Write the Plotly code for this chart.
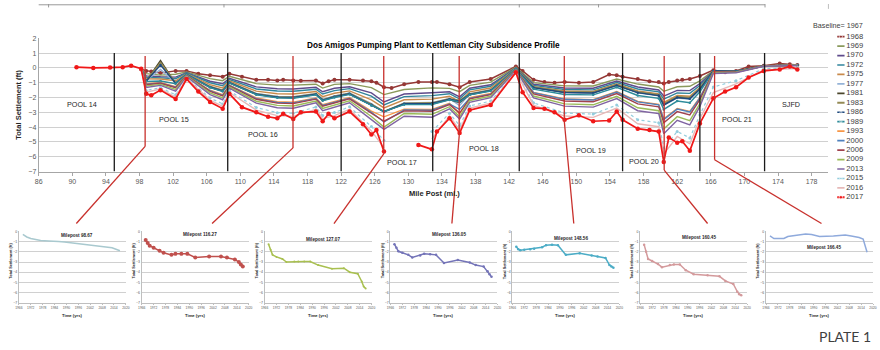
import plotly.graph_objects as go

W, H = 880, 350

# ---------------- DATA ----------------
YEARS = [1968, 1969, 1970, 1972, 1975, 1977, 1981, 1983, 1986, 1989,
         1993, 2000, 2006, 2009, 2013, 2015, 2016, 2017]

# fine milepost grid (1968 and 2017 profiles)
MP_FULL = [90.5, 92.5, 94.5, 96.0, 97.0, 98.2, 98.8, 99.4, 100.5, 102.3, 103.6, 105.0, 106.4, 107.9,
           108.7, 110.2, 111.9, 113.3, 114.4, 115.1, 116.3, 117.2, 119.0, 119.8, 120.5, 121.2, 123.0,
           124.6, 125.6, 126.2, 127.1, 128.0, 129.5, 131.2, 132.8, 133.4, 134.9, 136.1, 137.3, 139.8,
           142.8, 143.6, 144.9, 146.2, 147.4, 148.6, 150.3, 152.0, 153.9, 154.8, 155.5, 157.3, 158.7,
           159.8, 160.4, 161.0, 162.0, 162.6, 163.5, 164.7, 166.3, 167.7, 169.0, 170.5, 172.3, 174.2,
           175.4, 176.3]

S1968 = [None, None, None, None, None, -0.10, -0.20, -0.25, -0.35, -0.20, -0.20, -0.40, -0.50, -0.60,
         -0.40, -0.60, -0.80, -0.80, -0.85, -0.80, -0.85, -0.87, -0.85, -1.05, -0.90, -0.80, -0.80,
         -0.85, -0.90, -1.00, -1.30, -1.35, -1.10, -0.95, -0.95, -0.95, -1.10, -1.30, -0.95, -0.75,
         0.10, -0.20, -0.80, -0.95, -1.00, -0.95, -1.00, -0.95, -0.45, -0.50, -0.60, -0.75, -0.90,
         -0.95, -1.05, -0.95, -0.85, -0.80, -0.75, -0.55, -0.15, -0.30, -0.20, 0.10, 0.15, 0.30,
         0.25, 0.20]

S2017 = [0.05, 0.00, 0.02, 0.05, 0.15, -0.05, -1.75, -1.85, -1.50, -2.10, -0.75, -1.60, -2.30, -2.75,
         -1.75, -2.65, -3.00, -3.30, -3.40, -3.10, -3.45, -3.00, -2.95, -3.60, -3.10, -3.40, -2.95,
         -3.80, -4.50, -4.20, -5.65, None, None, -5.20, -5.50, -4.30, -3.40, -4.40, -2.85, -2.50,
         -0.30, -1.65, -2.70, -2.75, -3.00, -3.50, -3.20, -3.60, -3.55, -2.95, -3.50, -4.10, -4.20,
         -4.30, -6.35, -4.70, -5.05, -4.95, -5.60, -3.75, -2.05, -1.60, -1.30, -0.65, -0.20, -0.10,
         0.10, -0.10]

# coarser milepost grid for the intermediate surveys
MP_MID = [98.2, 98.8, 100.5, 102.3, 103.6, 106.4, 107.9, 108.7, 111.9, 114.4, 116.3, 119.0, 119.8,
          121.2, 123.0, 125.6, 127.1, 129.5, 132.8, 134.9, 136.1, 137.3, 139.8, 142.8, 144.9, 148.6,
          152.0, 154.8, 157.3, 159.8, 160.4, 162.0, 163.5, 164.7, 166.3, 169.0, 172.3, 176.3]

Y1969 = [-0.10, -0.39, -0.49, -0.43, -0.27, -0.72, -0.86, -0.56, -1.06, -1.16, -1.16, -1.10, -1.36, -1.11, -1.06, -1.33, -1.80, -1.46, -1.35, -1.38, -1.60, -1.18, -0.96, 0.05, -0.99, -1.21, -1.22, -0.75, -1.09, -1.29, -1.58, -1.27, -1.24, -0.87, -0.19, -0.22, 0.14, 0.19]
Y1970 = [-0.10, -0.54, -0.60, -0.62, -0.32, -0.90, -1.07, -0.70, -1.28, -1.41, -1.42, -1.31, -1.61, -1.37, -1.27, -1.69, -2.30, -1.76, -1.68, -1.61, -1.95, -1.37, -1.14, 0.01, -1.10, -1.36, -1.37, -0.89, -1.29, -1.49, -1.90, -1.52, -1.53, -1.06, -0.23, -0.24, 0.14, 0.19]
Y1972 = [-0.10, -0.63, -0.67, -0.73, -0.35, -1.00, -1.20, -0.78, -1.42, -1.56, -1.58, -1.44, -1.76, -1.53, -1.40, -1.91, -2.50, -1.94, -1.87, -1.74, -2.10, -1.48, -1.24, -0.01, -1.18, -1.46, -1.48, -0.99, -1.42, -1.62, -2.11, -1.69, -1.72, -1.19, -0.25, -0.26, 0.13, 0.19]
Y1975 = [-0.10, -0.74, -0.75, -0.87, -0.39, -1.13, -1.35, -0.87, -1.57, -1.74, -1.76, -1.59, -1.94, -1.71, -1.55, -2.16, -2.70, -2.15, -2.11, -1.91, -2.30, -1.62, -1.36, -0.04, -1.26, -1.56, -1.59, -1.09, -1.55, -1.75, -2.32, -1.86, -1.91, -1.32, -0.26, -0.27, 0.13, 0.18]
Y1977 = [-0.10, -0.85, -0.10, -1.00, -0.43, -1.26, -1.50, -0.97, -1.72, -1.92, -1.94, -1.73, -2.12, -1.89, -1.70, -2.41, -3.00, -2.36, -2.34, -2.07, -2.55, -1.75, -1.49, -0.07, -1.33, -1.66, -1.69, -1.19, -1.69, -1.89, -2.53, -2.03, -2.11, -1.45, -0.25, -0.26, 0.13, 0.19]
Y1981 = [-0.10, -0.90, 0.50, -1.06, -0.45, -1.31, -1.57, -1.01, -1.79, -2.00, -2.02, -1.80, -2.20, -1.97, -1.77, -2.52, -2.95, -2.45, -2.44, -2.14, -2.35, -1.81, -1.54, -0.08, -1.31, -1.64, -1.67, -1.16, -1.65, -1.85, -2.48, -1.98, -2.06, -1.41, -0.23, -0.24, 0.14, 0.19]
Y1983 = [-0.10, -0.87, 0.35, -1.02, -0.44, -1.27, -1.52, -0.98, -1.75, -1.95, -1.97, -1.75, -2.15, -1.92, -1.72, -2.45, -2.95, -2.39, -2.37, -2.09, -2.20, -1.77, -1.50, -0.07, -1.29, -1.61, -1.64, -1.14, -1.62, -1.82, -2.43, -1.94, -2.01, -1.38, -0.21, -0.23, 0.14, 0.19]
Y1986 = [-0.10, -0.88, 0.20, -1.04, -0.44, -1.29, -1.55, -0.99, -1.77, -1.97, -1.99, -1.77, -2.17, -1.94, -1.75, -2.48, -2.95, -2.42, -2.40, -2.11, -2.25, -1.79, -1.52, -0.08, -1.33, -1.66, -1.69, -1.18, -1.67, -1.87, -2.50, -2.00, -2.08, -1.43, -0.19, -0.22, 0.14, 0.19]
Y1989 = [-0.10, -0.91, -0.88, -1.07, -0.45, -1.33, -1.59, -1.02, -1.81, -2.02, -2.05, -1.82, -2.22, -2.00, -1.79, -2.56, -2.95, -2.48, -2.47, -2.16, -2.30, -1.82, -1.56, -0.08, -1.43, -1.79, -1.82, -1.31, -1.86, -2.06, -2.80, -2.24, -2.35, -1.61, -0.25, -0.26, 0.13, 0.19]
Y1993 = [-0.10, -1.07, -0.99, -1.26, -0.51, -1.51, -1.80, -1.16, -2.03, -2.28, -2.31, -2.03, -2.48, -2.26, -2.00, -2.92, -3.30, -2.78, -2.80, -2.39, -3.10, -2.01, -1.73, -0.12, -1.66, -2.10, -2.14, -1.60, -2.26, -2.46, -3.44, -2.74, -2.93, -1.99, -0.30, -0.29, 0.12, 0.18]
Y2000 = [-0.10, -1.10, -1.02, -1.30, -0.52, -1.54, -1.85, -1.18, -2.08, -2.33, -2.36, -2.07, -2.53, -2.31, -2.05, -2.99, -3.65, -2.84, -2.86, -2.43, -2.80, -2.05, -1.77, -0.13, -1.67, -2.12, -2.17, -1.63, -2.29, -2.49, -3.49, -2.78, -2.98, -2.02, -0.28, -0.28, 0.12, 0.18]
Y2006 = [-0.10, -1.13, -1.04, -1.34, -0.53, -1.58, -1.89, -1.21, -2.12, -2.38, -2.41, -2.11, -2.58, -2.36, -2.09, -3.06, -3.60, -2.90, -2.93, -2.48, -3.05, -2.09, -1.80, -0.14, -1.75, -2.23, -2.28, -1.73, -2.43, -2.63, -3.70, -2.95, -3.18, -2.15, -0.26, -0.27, 0.13, 0.18]
Y2009 = [-0.10, -1.22, -1.11, -1.45, -0.56, -1.69, -2.02, -1.29, -2.25, -2.53, -2.57, -2.24, -2.73, -2.52, -2.22, -3.28, -4.00, -3.08, -3.13, -2.62, -3.30, -2.20, -1.91, -0.16, -1.90, -2.43, -2.49, -1.92, -2.69, -2.89, -4.12, -3.29, -3.56, -2.41, -0.30, -0.29, 0.12, 0.18]
Y2013 = [-0.10, -1.32, -1.18, -1.57, -0.60, -1.80, -2.15, -1.37, -2.38, -2.69, -2.72, -2.36, -2.89, -2.67, -2.35, -3.49, -4.15, -3.26, -3.33, -2.76, -3.45, -2.32, -2.01, -0.19, -2.02, -2.58, -2.65, -2.07, -2.89, -3.09, -4.44, -3.54, -3.85, -2.60, -0.38, -0.33, 0.11, 0.16]
Y2015 = [-0.10, -1.52, -1.33, -1.82, -0.67, -2.03, -2.43, -1.55, -2.67, -3.02, -3.06, -2.64, -3.22, -3.01, -2.63, -3.96, -4.90, None, -4.30, -3.06, -3.90, -2.57, -2.24, -0.24, -2.36, -3.04, -3.12, -2.51, -3.50, -3.70, -5.40, -4.29, -4.73, -3.17, -1.29, -0.86, -0.06, 0.02]
Y2016 = [-0.10, -1.64, -1.42, -1.97, -0.71, -2.17, -2.60, -1.66, -2.85, -3.22, -3.27, -2.80, -3.42, -3.22, -2.80, -4.25, -5.40, None, -4.80, -3.24, -4.20, -2.72, -2.38, -0.27, -2.51, -3.25, -3.34, -2.71, -3.77, -3.97, -5.82, -4.63, -5.12, -3.43, -1.67, -1.08, -0.13, -0.04]

SERIES = {
    1968: (MP_FULL, S1968), 1969: (MP_MID, Y1969), 1970: (MP_MID, Y1970), 1972: (MP_MID, Y1972),
    1975: (MP_MID, Y1975), 1977: (MP_MID, Y1977), 1981: (MP_MID, Y1981), 1983: (MP_MID, Y1983),
    1986: (MP_MID, Y1986), 1989: (MP_MID, Y1989), 1993: (MP_MID, Y1993), 2000: (MP_MID, Y2000),
    2006: (MP_MID, Y2006), 2009: (MP_MID, Y2009), 2013: (MP_MID, Y2013), 2015: (MP_MID, Y2015),
    2016: (MP_MID, Y2016), 2017: (MP_FULL, S2017),
}

# time series at selected mileposts (inset charts), one value per survey year
INSET_MILEPOSTS = [98.67, 116.27, 127.07, 136.05, 148.56, 160.45, 166.45]
IN_98_67 = [-0.30, -0.45, -0.55, -0.70, -0.85, -0.90, -0.95, -0.95, -1.00, -1.05, -1.15, -1.30, -1.40, -1.50, -1.60, -1.75, -1.80, -1.90]
IN_116_27 = [-0.85, -1.15, -1.40, -1.60, -1.90, -2.10, -2.30, -2.20, -2.20, -2.20, -2.55, -2.45, -2.45, -2.55, -2.75, -3.00, -3.25, -3.45]
IN_127_07 = [-1.25, -1.80, -2.30, -2.50, -2.70, -3.00, -2.95, -2.95, -2.95, -2.95, -3.30, -3.65, -3.60, -4.00, -4.15, -4.90, -5.40, -5.60]
IN_136_05 = [-1.25, -1.60, -1.95, -2.10, -2.30, -2.55, -2.35, -2.20, -2.25, -2.30, -3.10, -2.80, -3.05, -3.30, -3.45, -3.90, -4.20, -4.45]
IN_148_56 = [-1.50, -1.75, -1.85, -1.80, -1.75, -1.70, -1.55, -1.35, -1.30, -1.35, -2.30, -2.15, -2.35, -2.45, -2.60, -3.30, -3.45, -3.55]
IN_160_45 = [-1.30, -2.00, -2.70, -2.90, -3.20, -3.50, -3.30, -3.25, -3.25, -3.80, -4.20, -4.30, -4.40, -4.85, -5.15, -5.90, -6.15, -6.25]
IN_166_45 = [-0.45, -0.55, -0.70, -0.70, -0.70, -0.50, -0.40, -0.35, -0.25, -0.30, -0.50, -0.45, -0.35, -0.45, -0.60, -0.75, -1.40, -2.05]
INSET_VALUES = [IN_98_67, IN_116_27, IN_127_07, IN_136_05, IN_148_56, IN_160_45, IN_166_45]

POOL_BOUNDS = [95.0, 108.5, 122.0, 132.9, 143.2, 155.5, 164.7, 172.4]
POOL_NAMES = ["POOL 14", "POOL 15", "POOL 16", "POOL 17", "POOL 18", "POOL 19", "POOL 20", "POOL 21", "SJFD"]
POOL_LABEL_X = [91.1, 102.1, 112.7, 129.2, 139.0, 151.7, 158.1, 169.1, 175.5]
POOL_LABEL_Y = [-2.5, -3.45, -4.5, -6.4, -5.45, -5.55, -6.35, -3.45, -2.5]
MAIN_X_TICKS = list(range(86, 179, 4))
INSET_X_TICKS = list(range(1966, 2021, 6))

# ---------------- STYLE ----------------
STYLE = {
    1968: ("#953735", 1.5, "solid", 4),
    1969: ("#8A9A5B", 1.4, "solid", 0),
    1970: ("#5F4B8B", 1.4, "solid", 0),
    1972: ("#31859C", 1.4, "solid", 0),
    1975: ("#C98A4B", 1.4, "solid", 0),
    1977: ("#95B3D7", 1.4, "solid", 0),
    1981: ("#4A452A", 1.4, "solid", 0),
    1983: ("#948A54", 1.8, "solid", 0),
    1986: ("#1F497D", 1.4, "solid", 2.5),
    1989: ("#2E8B9A", 1.4, "solid", 2.5),
    1993: ("#F79646", 1.4, "solid", 0),
    2000: ("#4F81BD", 1.4, "solid", 0),
    2006: ("#A0434E", 1.4, "solid", 0),
    2009: ("#9BBB59", 1.4, "solid", 0),
    2013: ("#8064A2", 1.4, "solid", 0),
    2015: ("#93CDDD", 1.2, "dot", 3),
    2016: ("#E6B9B8", 1.4, "solid", 0),
    2017: ("#F01818", 1.7, "solid", 4.5),
}
INSET_COLORS = ["#A9C9CF", "#C0504D", "#A9C050", "#7474B8", "#4BACC6", "#D49A9C", "#8FAADC"]
INSET_MARK = [0, 4, 2, 2.5, 2.5, 2.5, 0]
INSET_LEFT_PX = [15, 139, 263, 390, 513, 642, 769]
INSET_W_PX = 108
INSET_TOP_PX, INSET_BOT_PX = 232, 305
TITLE_Y = [-0.45, -0.35, -0.75, -0.35, -0.7, -0.6, -1.6]
CONN_END_Y = [-5.3, -5.4, -5.8, -4.6, -3.6, -6.9, -6.2]
CONN_TARGET_PX = [73, 210, 333, 452, 575, 710, 825]
CONN_TARGET_Y_PX = 224

MAIN_X_PX = (35, 832)
MAIN_Y_PX = (35, 171)
X_RANGE = [86, 180]
Y_RANGE = [-7, 2]
FONT = "Liberation Sans, Arial, sans-serif"


def fx(p):
    return p / W


def fy(p):
    return 1 - p / H


def data_to_px(mx, my):
    px = MAIN_X_PX[0] + (mx - X_RANGE[0]) / (X_RANGE[1] - X_RANGE[0]) * (MAIN_X_PX[1] - MAIN_X_PX[0])
    py = MAIN_Y_PX[0] + (Y_RANGE[1] - my) / (Y_RANGE[1] - Y_RANGE[0]) * (MAIN_Y_PX[1] - MAIN_Y_PX[0])
    return px, py


def note(text, x, y, size, xref="paper", yref="paper", color="#262626", angle=0, family=None):
    f = dict(size=size, color=color)
    if family:
        f["family"] = family
    return dict(text=text, xref=xref, yref=yref, x=x, y=y, showarrow=False,
                xanchor="center", yanchor="middle", textangle=angle, font=f)


fig = go.Figure()

# main profile lines
for yr in YEARS:
    mp, vals = SERIES[yr]
    c, w, d, ms = STYLE[yr]
    fig.add_trace(go.Scatter(
        x=mp, y=vals, mode="lines+markers" if ms else "lines",
        line=dict(color=c, width=w, dash=d),
        marker=dict(size=ms, color=c, symbol="circle"),
        xaxis="x", yaxis="y", showlegend=False, hoverinfo="skip"))

# manual legend (compact) on hidden axis
for i, yr in enumerate(YEARS):
    c, w, d, ms = STYLE[yr]
    fig.add_trace(go.Scatter(
        x=[0.15, 0.23, 0.31], y=[i, i, i], mode="lines+markers",
        line=dict(color=c, width=min(w + 0.3, 2.2), dash="solid"),
        marker=dict(size=[0, ms * 0.8 if ms else 0, 0], color=c),
        xaxis="x9", yaxis="y9", showlegend=False, hoverinfo="skip"))
fig.add_trace(go.Scatter(
    x=[0.35] * len(YEARS), y=list(range(len(YEARS))), mode="text",
    text=[str(y) for y in YEARS], textposition="middle right",
    textfont=dict(size=7.6, color="#404040", family=FONT),
    xaxis="x9", yaxis="y9", showlegend=False, hoverinfo="skip"))

# insets
for i, (mp, vals) in enumerate(zip(INSET_MILEPOSTS, INSET_VALUES)):
    k = i + 2
    fig.add_trace(go.Scatter(
        x=YEARS, y=vals, mode="lines+markers" if INSET_MARK[i] else "lines",
        line=dict(color=INSET_COLORS[i], width=1.5),
        marker=dict(size=INSET_MARK[i], color=INSET_COLORS[i]),
        xaxis=f"x{k}", yaxis=f"y{k}", showlegend=False, hoverinfo="skip"))

layout = dict(
    width=W, height=H, margin=dict(l=0, r=0, t=0, b=0),
    paper_bgcolor="white", plot_bgcolor="white",
    font=dict(family=FONT, color="#404040"),
    xaxis=dict(domain=[fx(MAIN_X_PX[0]), fx(MAIN_X_PX[1])], range=X_RANGE,
               tickvals=MAIN_X_TICKS, showgrid=False, zeroline=False,
               showline=True, linecolor="#A6A6A6", linewidth=1,
               ticks="outside", ticklen=3, tickcolor="#A6A6A6",
               tickfont=dict(size=7, color="#595959"), anchor="y"),
    yaxis=dict(domain=[fy(MAIN_Y_PX[1]), fy(MAIN_Y_PX[0])], range=Y_RANGE, dtick=1,
               showgrid=True, gridcolor="#D0D0D0", gridwidth=1, zeroline=False,
               showline=True, linecolor="#A6A6A6", linewidth=1,
               tickfont=dict(size=7, color="#595959"), anchor="x"),
    xaxis9=dict(domain=[fx(834), 1.0], range=[0, 1], visible=False, anchor="y9"),
    yaxis9=dict(domain=[fy(202.1), fy(28.5)], range=[17.5, -0.5], visible=False, anchor="x9"),
)

annotations = []
shapes = []

for i, mp in enumerate(INSET_MILEPOSTS):
    k = i + 2
    left = INSET_LEFT_PX[i]
    right = left + INSET_W_PX
    layout[f"xaxis{k}"] = dict(
        domain=[fx(left), fx(right)], range=[1966, 2020], tickvals=INSET_X_TICKS,
        showgrid=False, zeroline=False, showline=True, linecolor="#BFBFBF",
        ticks="outside", ticklen=1.5, tickcolor="#BFBFBF",
        tickfont=dict(size=3.3, color="#595959"), anchor=f"y{k}")
    layout[f"yaxis{k}"] = dict(
        domain=[fy(INSET_BOT_PX), fy(INSET_TOP_PX)], range=[-7, 0], dtick=1,
        showgrid=True, gridcolor="#D0D0D0", zeroline=False, showline=True,
        linecolor="#BFBFBF", tickfont=dict(size=3.5, color="#595959"), anchor=f"x{k}")
    annotations.append(note(f"<b>Milepost {mp:.2f}</b>", 1995.5, TITLE_Y[i], 4.6,
                            xref=f"x{k}", yref=f"y{k}"))
    annotations.append(note("<b>Total Settlement (ft)</b>", fx(left - 8), fy(262), 3.8, angle=-90))
    annotations.append(note("<b>Time (yrs)</b>", fx((left + right) / 2), fy(318), 4.2))
    # connector: vertical in data space, then diagonal to the inset
    shapes.append(dict(type="line", xref="x", yref="y", x0=mp, x1=mp, y0=0.8, y1=CONN_END_Y[i],
                       line=dict(color="#C8302C", width=1.3), layer="above"))
    sx, sy = data_to_px(mp, CONN_END_Y[i])
    shapes.append(dict(type="line", xref="paper", yref="paper",
                       x0=fx(sx), y0=fy(sy), x1=fx(CONN_TARGET_PX[i]), y1=fy(CONN_TARGET_Y_PX),
                       line=dict(color="#C8302C", width=1.3), layer="above"))

for b in POOL_BOUNDS:
    shapes.append(dict(type="line", xref="x", yref="y", x0=b, x1=b, y0=1, y1=-7,
                       line=dict(color="#1A1A1A", width=1.3), layer="above"))

for name, x, y in zip(POOL_NAMES, POOL_LABEL_X, POOL_LABEL_Y):
    annotations.append(note(name, x, y, 7.2, xref="x", yref="y"))

# top border remnants
shapes.append(dict(type="line", xref="paper", yref="paper", x0=fx(35), x1=fx(768), y0=fy(0.8), y1=fy(0.8),
                   line=dict(color="#9A9A9A", width=1)))
for tx in [45, 222, 520, 600, 768]:
    shapes.append(dict(type="line", xref="paper", yref="paper", x0=fx(tx), x1=fx(tx), y0=fy(0), y1=fy(3.5),
                       line=dict(color="#9A9A9A", width=1)))
shapes.append(dict(type="line", xref="paper", yref="paper", x0=fx(832), x1=fx(832), y0=fy(0), y1=fy(5),
                   line=dict(color="#BFBFBF", width=1)))

annotations += [
    note("<b>Dos Amigos Pumping Plant to Kettleman City Subsidence Profile</b>", fx(433), fy(42), 8.2,
         color="#000000"),
    note("<b>Total Settlement (ft)</b>", fx(15), fy(103), 7.5, angle=-90),
    note("<b>Mile Post (mi.)</b>", fx(434), fy(193), 7.5),
    note("Baseline= 1967", fx(842), fy(21.7), 7.2, color="#404040"),
    note("PLATE 1", fx(849), fy(339), 14, color="#3F3F3F", family="Lato, Open Sans, sans-serif"),
]

layout["annotations"] = annotations
layout["shapes"] = shapes
fig.update_layout(**layout)

fig.write_html("out.html")
